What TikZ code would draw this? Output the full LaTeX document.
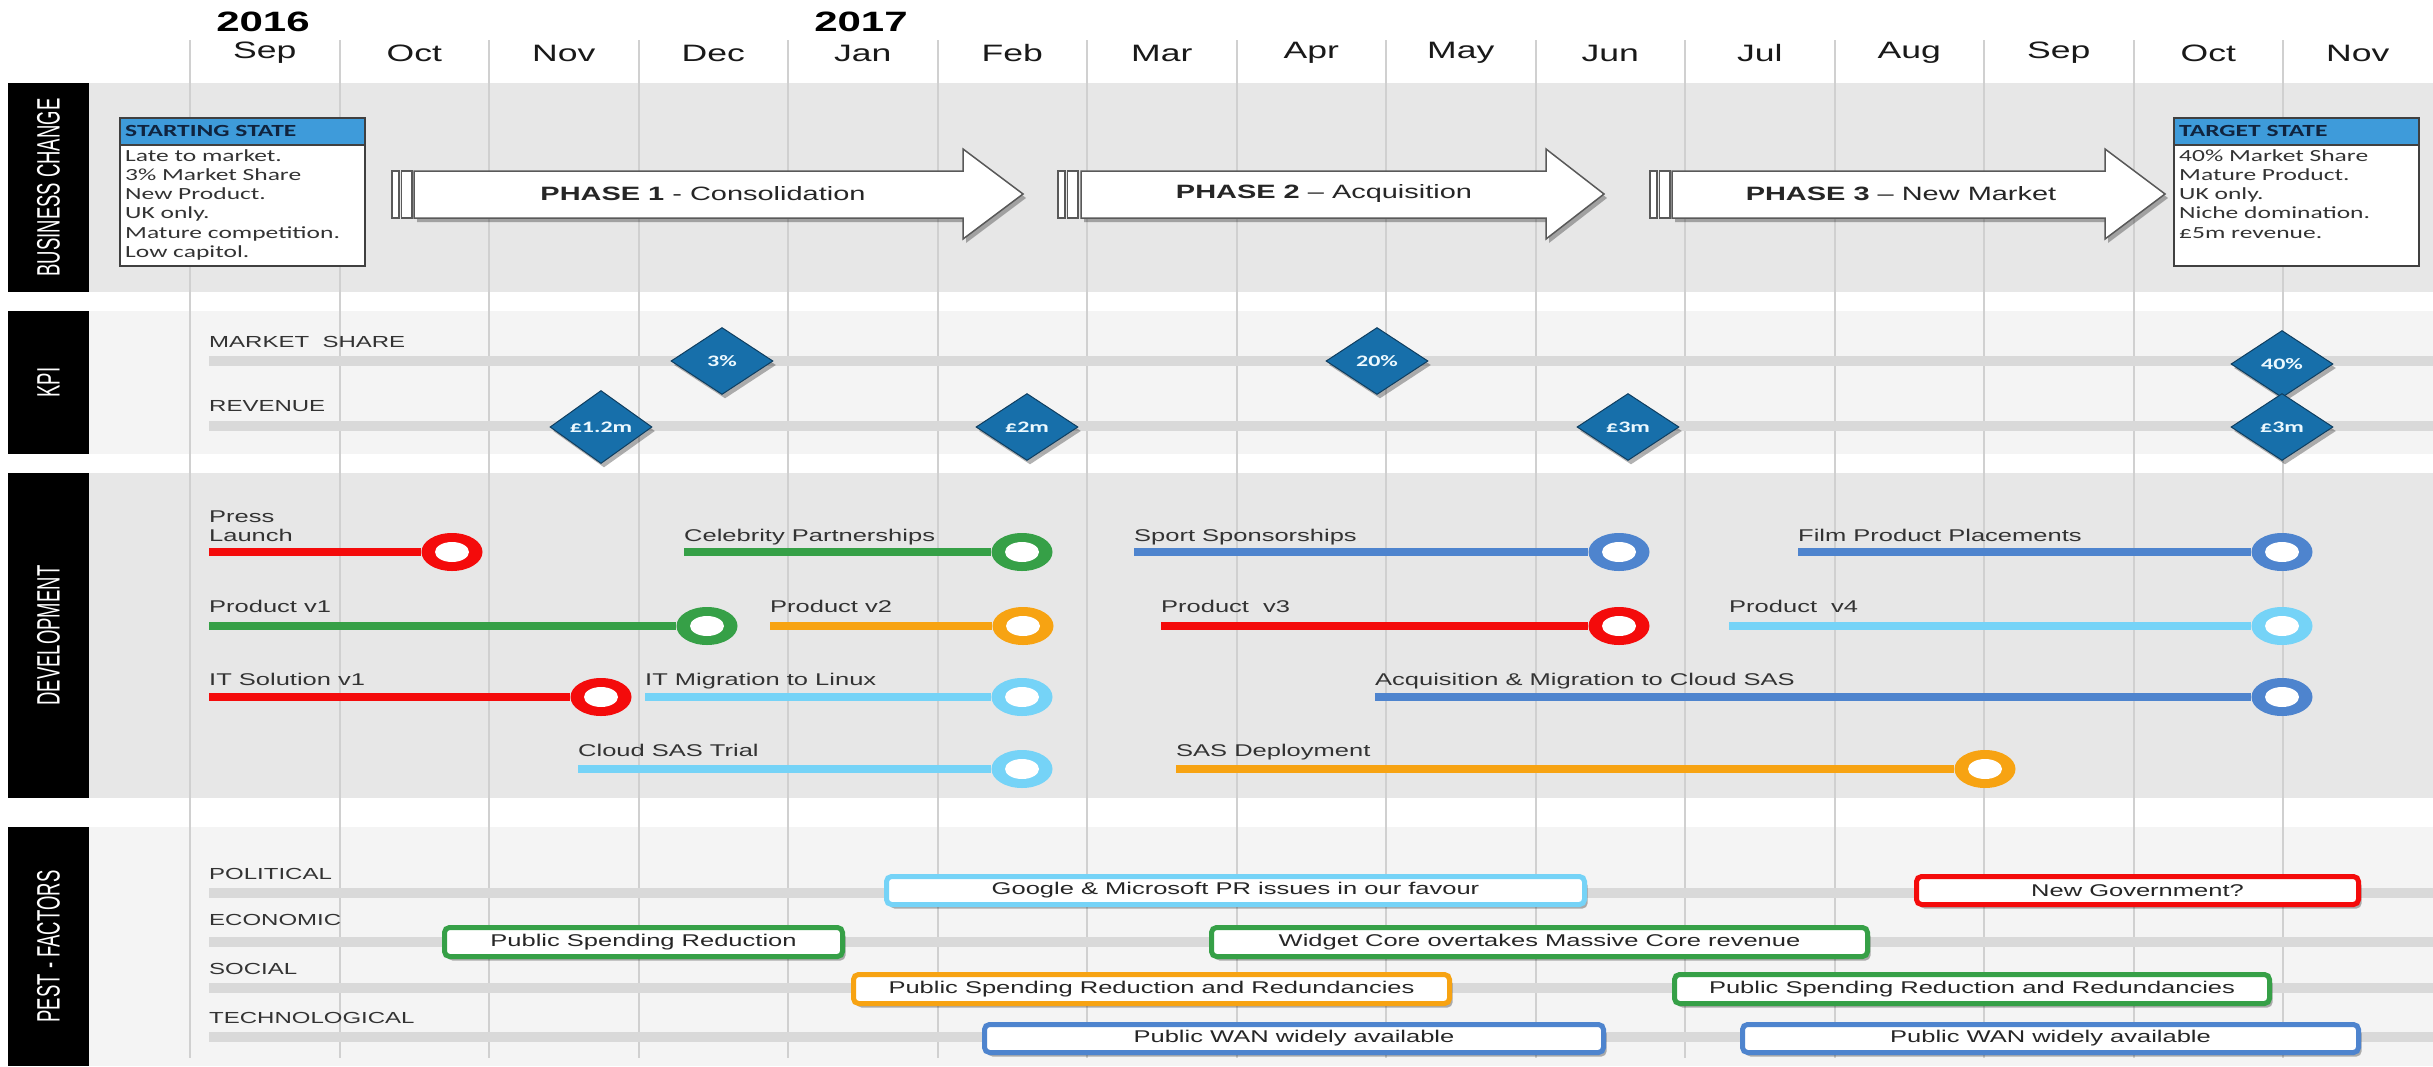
\documentclass[tikz,border=0pt]{standalone}
\usepackage{fontspec}
\usepackage{graphicx}
\setmainfont{Liberation Sans}[FakeStretch=1.5]
\newfontfamily\calib{Carlito}[FakeStretch=1.5]
\newfontfamily\plainsans{Liberation Sans}
\usetikzlibrary{shapes.geometric,shadows}
\newcommand\fsz[1]{\fontsize{#1}{#1}\selectfont}
\newcommand\fszl[2]{\fontsize{#1}{#2}\selectfont}
\definecolor{bandA}{HTML}{E7E7E7}
\definecolor{bandB}{HTML}{F4F4F4}
\definecolor{barc}{HTML}{D9D9D9}
\definecolor{gridc}{HTML}{D0D0D0}
\definecolor{cred}{HTML}{F40B0B}
\definecolor{cgreen}{HTML}{36A047}
\definecolor{cblue}{HTML}{4E84CE}
\definecolor{corange}{HTML}{F7A312}
\definecolor{clblue}{HTML}{75D3F7}
\definecolor{dia}{HTML}{176FAA}
\definecolor{diaborder}{HTML}{0F3E60}
\definecolor{hdr}{HTML}{3E9BDA}
\definecolor{hdrtext}{HTML}{10243F}
\definecolor{txt}{HTML}{333333}
\tikzset{
  shad/.style={drop shadow={shadow xshift=3pt,shadow yshift=-4pt,opacity=0.3,fill=black}},
  blackbox/.style={fill=black,inner sep=0pt},
  sidelabel/.style={text=white,rotate=90,inner sep=0pt,font=\plainsans\fsz{18.5}},
  monthlbl/.style={font=\fsz{23.7},text=black!90,inner sep=0pt},
  yearlbl/.style={font=\bfseries\fsz{28},text=black,inner sep=0pt},
  gridline/.style={draw=gridc,line width=2pt},
  rowlbl/.style={anchor=base west,inner sep=0pt,text=txt,font=\fsz{16}},
  devlbl/.style={anchor=base west,inner sep=0pt,text=txt,font=\fsz{17}},
  kbar/.style={draw=barc,line width=10pt},
  devline/.style={draw=#1,line width=8pt},
  ring/.style={ellipse,fill=#1,minimum width=61pt,minimum height=38pt,inner sep=0pt,
    path picture={\fill[white] (path picture bounding box.center) ellipse [x radius=17pt,y radius=10pt];}},
  kpidia/.style={diamond,fill=dia,draw=diaborder,line width=1pt,minimum width=102pt,minimum height=67pt,
    inner sep=0pt,text=white!92!cyan,font=\calib\bfseries\fsz{16},shad},
  pestbox/.style={rounded corners=5pt,draw=#1,line width=5pt,fill=white,inner sep=0pt,
    font=\fsz{17},text=black!85,shad},
  arrowbody/.style={fill=white,draw=black!65,line width=1.5pt,shad},
  arrowbar/.style={fill=white,draw=black!65,line width=1.2pt},
  phasetxt/.style={font=\fsz{19.3},text=black!85,inner sep=0pt},
  statebody/.style={draw=black!75,line width=1.5pt,fill=white,inner sep=0pt},
  statehdr/.style={draw=black!75,line width=1.5pt,fill=hdr,inner sep=0pt},
  hdrtxt/.style={font=\calib\bfseries\fsz{17},text=hdrtext,inner sep=0pt,anchor=west},
  bodytxt/.style={font=\calib\fszl{17}{19.3},text=black!80,inner sep=0pt,align=left,anchor=north west},
}
\begin{document}
\begin{tikzpicture}[x=1pt,y=-1pt]
\fill[white] (0,0) rectangle (2433,1066);
\useasboundingbox (0,0) rectangle (2433,1066);
% bands
\fill[bandA] (89,83) rectangle (2433,292);
\fill[bandB] (89,311) rectangle (2433,454);
\fill[bandA] (89,473) rectangle (2433,798);
\fill[bandB] (89,827) rectangle (2433,1066);
% black side boxes
\node[blackbox,minimum width=81pt,minimum height=209pt] (bcbox) at (48.5,187.5) {};
\node[blackbox,minimum width=81pt,minimum height=143pt] (kpibox) at (48.5,382.5) {};
\node[blackbox,minimum width=81pt,minimum height=325pt] (devbox) at (48.5,635.5) {};
\node[blackbox,minimum width=81pt,minimum height=239pt] (pestbx) at (48.5,946.5) {};
\node[sidelabel] (bcl) at (bcbox.center) {\scalebox{1}[1.75]{BUSINESS CHANGE}};
\node[sidelabel] (kpil) at (kpibox.center) {\scalebox{1}[1.75]{KPI}};
\node[sidelabel] (devl) at (devbox.center) {\scalebox{1}[1.75]{DEVELOPMENT}};
\node[sidelabel] (pestl) at (pestbx.center) {\scalebox{1}[1.75]{PEST - FACTORS}};
% grid lines
\foreach \k in {0,...,14} {
  \coordinate (gt\k) at ({190+149.5*\k},40);
  \coordinate (gb\k) at ({190+149.5*\k},1058);
  \draw[gridline] (gt\k) -- (gb\k);
}
% months and years
\foreach \m [count=\i from 0] in {Sep,Oct,Nov,Dec,Jan,Feb,Mar,Apr,May,Jun,Jul,Aug,Sep,Oct,Nov}
  \node[monthlbl] (mon\i) at ({190+149.5*(\i+0.5)},53) {\m};
\node[yearlbl] (y2016) at (263,22) {2016};
\node[yearlbl] (y2017) at (861,22) {2017};
% state boxes
\node[statebody,anchor=north west,minimum width=245pt,minimum height=148pt] (sbox) at (119,117) {};
\node[statehdr,anchor=north west,minimum width=245pt,minimum height=27pt] (shdr) at (119,117) {};
\node[hdrtxt] (shdrt) at (125,130.5) {STARTING STATE};
\node[bodytxt] (sbody) at (125,149) {Late to market.\\3\% Market Share\\New Product.\\UK only.\\Mature competition.\\Low capitol.};
\node[statebody,anchor=north west,minimum width=245pt,minimum height=148pt] (tbox) at (2173,117) {};
\node[statehdr,anchor=north west,minimum width=245pt,minimum height=27pt] (thdr) at (2173,117) {};
\node[hdrtxt] (thdrt) at (2179,130.5) {TARGET STATE};
\node[bodytxt] (tbody) at (2179,149) {40\% Market Share\\Mature Product.\\UK only.\\Niche domination.\\\pounds5m revenue.};
% phase arrows
\path[arrowbody] (414,171) -- (963,171) -- (963,149) -- (1023,194) -- (963,239) -- (963,218) -- (414,218) -- cycle;
\path[arrowbar] (392,171) rectangle (399,218);
\path[arrowbar] (401.5,171) rectangle (412,218);
\node[phasetxt] (ph1) at (703,194) {\textbf{PHASE 1} - Consolidation};
\path[arrowbody] (1081,171) -- (1546,171) -- (1546,149) -- (1604,194) -- (1546,239) -- (1546,218) -- (1081,218) -- cycle;
\path[arrowbar] (1058,171) rectangle (1065,218);
\path[arrowbar] (1067.5,171) rectangle (1078,218);
\node[phasetxt] (ph2) at (1324,194) {\textbf{PHASE 2} -- Acquisition};
\path[arrowbody] (1672,171) -- (2105,171) -- (2105,149) -- (2165,194) -- (2105,239) -- (2105,218) -- (1672,218) -- cycle;
\path[arrowbar] (1650,171) rectangle (1657,218);
\path[arrowbar] (1659.5,171) rectangle (1670,218);
\node[phasetxt] (ph3) at (1901,194) {\textbf{PHASE 3} -- New Market};
% KPI
\node[rowlbl] (lms) at (209,347) {MARKET\ \ SHARE};
\node[rowlbl] (lrev) at (209,411) {REVENUE};
\coordinate (kms1) at (209,361); \coordinate (kms2) at (2433,361);
\coordinate (krv1) at (209,426); \coordinate (krv2) at (2433,426);
\draw[kbar] (kms1) -- (kms2);
\draw[kbar] (krv1) -- (krv2);
\node[kpidia] (d3) at (722,361) {3\%};
\node[kpidia] (d20) at (1377,361) {20\%};
\node[kpidia] (d40) at (2282,364) {40\%};
\node[kpidia] (r12) at (601,427) {\pounds1.2m};
\node[kpidia] (r2) at (1027,427) {\pounds2m};
\node[kpidia] (r3a) at (1628,427) {\pounds3m};
\node[kpidia] (r3b) at (2282,427) {\pounds3m};
% Development row 1
\node[devlbl] (lpress) at (209,522) {Press};
\node[devlbl] (llaunch) at (209,541) {Launch};
\coordinate (a1) at (209,552); \node[ring=cred] (ra1) at (452,552) {}; \draw[devline=cred] (a1) -- (ra1);
\node[devlbl] (lceleb) at (684,541) {Celebrity Partnerships};
\coordinate (a2) at (684,552); \node[ring=cgreen] (ra2) at (1022,552) {}; \draw[devline=cgreen] (a2) -- (ra2);
\node[devlbl] (lsport) at (1134,541) {Sport Sponsorships};
\coordinate (a3) at (1134,552); \node[ring=cblue] (ra3) at (1619,552) {}; \draw[devline=cblue] (a3) -- (ra3);
\node[devlbl] (lfilm) at (1798,541) {Film Product Placements};
\coordinate (a4) at (1798,552); \node[ring=cblue] (ra4) at (2282,552) {}; \draw[devline=cblue] (a4) -- (ra4);
% row 2
\node[devlbl] (lpv1) at (209,612) {Product v1};
\coordinate (b1) at (209,626); \node[ring=cgreen] (rb1) at (707,626) {}; \draw[devline=cgreen] (b1) -- (rb1);
\node[devlbl] (lpv2) at (770,612) {Product v2};
\coordinate (b2) at (770,626); \node[ring=corange] (rb2) at (1023,626) {}; \draw[devline=corange] (b2) -- (rb2);
\node[devlbl] (lpv3) at (1161,612) {Product\ \ v3};
\coordinate (b3) at (1161,626); \node[ring=cred] (rb3) at (1619,626) {}; \draw[devline=cred] (b3) -- (rb3);
\node[devlbl] (lpv4) at (1729,612) {Product\ \ v4};
\coordinate (b4) at (1729,626); \node[ring=clblue] (rb4) at (2282,626) {}; \draw[devline=clblue] (b4) -- (rb4);
% row 3
\node[devlbl] (lits) at (209,685) {IT Solution v1};
\coordinate (c1) at (209,697); \node[ring=cred] (rc1) at (601,697) {}; \draw[devline=cred] (c1) -- (rc1);
\node[devlbl] (litm) at (645,685) {IT Migration to Linux};
\coordinate (c2) at (645,697); \node[ring=clblue] (rc2) at (1022,697) {}; \draw[devline=clblue] (c2) -- (rc2);
\node[devlbl] (lacq) at (1375,685) {Acquisition \& Migration to Cloud SAS};
\coordinate (c3) at (1375,697); \node[ring=cblue] (rc3) at (2282,697) {}; \draw[devline=cblue] (c3) -- (rc3);
% row 4
\node[devlbl] (lcst) at (578,756) {Cloud SAS Trial};
\coordinate (e1) at (578,769); \node[ring=clblue] (re1) at (1022,769) {}; \draw[devline=clblue] (e1) -- (re1);
\node[devlbl] (lsasd) at (1176,756) {SAS Deployment};
\coordinate (e2) at (1176,769); \node[ring=corange] (re2) at (1985,769) {}; \draw[devline=corange] (e2) -- (re2);
% PEST
\node[rowlbl] (lpol) at (209,879) {POLITICAL};
\node[rowlbl] (leco) at (209,925) {ECONOMIC};
\node[rowlbl] (lsoc) at (209,974) {SOCIAL};
\node[rowlbl] (ltec) at (209,1023) {TECHNOLOGICAL};
\coordinate (pp1) at (209,893); \coordinate (pp2) at (2433,893); \draw[kbar] (pp1) -- (pp2);
\coordinate (pe1) at (209,942); \coordinate (pe2) at (2433,942); \draw[kbar] (pe1) -- (pe2);
\coordinate (ps1) at (209,988); \coordinate (ps2) at (2433,988); \draw[kbar] (ps1) -- (ps2);
\coordinate (pt1) at (209,1037); \coordinate (pt2) at (2433,1037); \draw[kbar] (pt1) -- (pt2);
\node[pestbox=clblue,minimum width=698pt,minimum height=28pt] (bgoog) at (1235.5,890.5) {Google \& Microsoft PR issues in our favour};
\node[pestbox=cred,minimum width=442pt,minimum height=28pt] (bgov) at (2137.5,890.5) {New Government?};
\node[pestbox=cgreen,minimum width=398pt,minimum height=29pt] (bpsr) at (643.5,942) {Public Spending Reduction};
\node[pestbox=cgreen,minimum width=656pt,minimum height=29pt] (bwid) at (1539.5,942) {Widget Core overtakes Massive Core revenue};
\node[pestbox=corange,minimum width=596pt,minimum height=29pt] (bpsr2) at (1151.5,989) {Public Spending Reduction and Redundancies};
\node[pestbox=cgreen,minimum width=595pt,minimum height=29pt] (bpsr3) at (1972,989) {Public Spending Reduction and Redundancies};
\node[pestbox=cblue,minimum width=619pt,minimum height=28pt] (bwan1) at (1294,1038.5) {Public WAN widely available};
\node[pestbox=cblue,minimum width=616pt,minimum height=28pt] (bwan2) at (2050.5,1038.5) {Public WAN widely available};
\end{tikzpicture}
\end{document}
